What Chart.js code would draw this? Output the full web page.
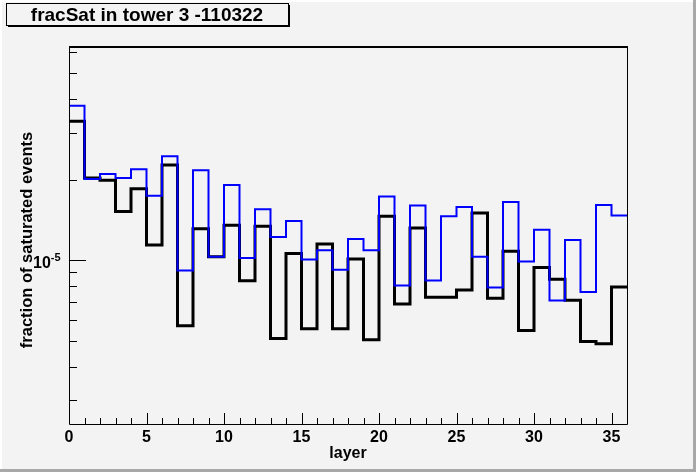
<!DOCTYPE html>
<html>
<head>
<meta charset="utf-8">
<script src="https://cdn.jsdelivr.net/npm/chart.js@4.4.1/dist/chart.umd.min.js"></script>
<style>
  html, body { margin: 0; padding: 0; background: #f3f3f3; overflow: hidden; }
  #wrap { position: relative; width: 696px; height: 472px; }
</style>
</head>
<body>
<div id="wrap"><canvas id="fracChart"></canvas></div>
<script>
// Histogram bins (layer number = left edge of bin)
const layers = [0, 1, 2, 3, 4, 5, 6, 7, 8, 9, 10, 11, 12, 13, 14, 15, 16, 17,
                18, 19, 20, 21, 22, 23, 24, 25, 26, 27, 28, 29, 30, 31, 32, 33, 34, 35];

// fraction of saturated events, black histogram
const fracBlack = [3.31e-5, 2.03e-5, 1.99e-5, 1.52e-5, 1.85e-5, 1.14e-5, 2.27e-5, 5.69e-6,
                   1.31e-5, 1.03e-5, 1.35e-5, 8.37e-6, 1.34e-5, 5.10e-6, 1.06e-5, 5.54e-6,
                   1.15e-5, 5.54e-6, 1.01e-5, 5.04e-6, 1.46e-5, 6.85e-6, 1.32e-5, 7.27e-6,
                   7.27e-6, 7.73e-6, 1.50e-5, 7.21e-6, 1.08e-5, 5.46e-6, 9.38e-6, 8.49e-6,
                   7.09e-6, 4.96e-6, 4.87e-6, 7.93e-6];

// fraction of saturated events, blue histogram
const fracBlue = [3.78e-5, 2.01e-5, 2.10e-5, 2.03e-5, 2.19e-5, 1.74e-5, 2.45e-5, 9.15e-6,
                  2.17e-5, 1.03e-5, 1.91e-5, 1.02e-5, 1.55e-5, 1.22e-5, 1.40e-5, 1.005e-5,
                  1.09e-5, 9.20e-6, 1.20e-5, 1.09e-5, 1.73e-5, 8.04e-6, 1.60e-5, 8.39e-6,
                  1.46e-5, 1.58e-5, 1.03e-5, 7.90e-6, 1.65e-5, 9.88e-6, 1.30e-5, 7.07e-6,
                  1.19e-5, 7.60e-6, 1.61e-5, 1.47e-5];

// axis ticks
const xMajorTicks = [0, 5, 10, 15, 20, 25, 30, 35];
const xMinorTicks = [1, 2, 3, 4, 6, 7, 8, 9, 11, 12, 13, 14, 16, 17, 18, 19, 21, 22, 23, 24,
                     26, 27, 28, 29, 31, 32, 33, 34, 36];
const yMajorTicks = [1e-5];
const yMajorLabels = ['-5'];
const yMinorTicks = [3e-6, 4e-6, 5e-6, 6e-6, 7e-6, 8e-6, 9e-6, 2e-5, 3e-5, 4e-5, 5e-5, 6e-5];

const xRange = [0, 36];
const yRange = [2.44e-6, 6.27e-5];

const titleText = 'fracSat in tower 3 -110322';
const xTitle = 'layer';
const yTitle = 'fraction of saturated events';

const FONT = '"Liberation Sans", Arial, Helvetica, sans-serif';

// step points: one per bin plus the right edge of the last bin
function toSteps(values) {
    const pts = layers.map((l, i) => ({ x: l, y: values[i] }));
    pts.push({ x: layers[layers.length - 1] + 1, y: values[values.length - 1] });
    return pts;
}

// ROOT-like canvas decoration: pad bevel, title box, frame, inward ticks
const rootFrame = {
    id: 'rootFrame',
    beforeDraw(chart) {
        const ctx = chart.ctx;
        const w = chart.width, h = chart.height;
        ctx.save();
        ctx.fillStyle = '#f3f3f3';
        ctx.fillRect(0, 0, w, h);
        // bevel
        ctx.fillStyle = '#ffffff';
        ctx.fillRect(0, 0, w, 2);
        ctx.fillRect(0, 0, 2, h);
        ctx.fillStyle = '#a8a8a8';
        ctx.fillRect(w - 3, 0, 3, h);
        ctx.fillRect(0, h - 3, w, 3);

        // title box
        ctx.fillStyle = '#000';
        ctx.fillRect(8, 5, 282, 22);
        ctx.fillStyle = '#f3f3f3';
        ctx.fillRect(7, 4, 281, 21);
        ctx.strokeStyle = '#000';
        ctx.lineWidth = 1;
        ctx.strokeRect(6.5, 3.5, 282, 22);
        ctx.fillStyle = '#000';
        ctx.font = 'bold 19px ' + FONT;
        ctx.textAlign = 'center';
        ctx.textBaseline = 'alphabetic';
        ctx.fillText(titleText, 147, 21);
        ctx.restore();
    },
    afterDatasetsDraw(chart) {
        const ctx = chart.ctx;
        const a = chart.chartArea;
        const xs = chart.scales.x, ys = chart.scales.y;
        ctx.save();
        ctx.strokeStyle = '#000';
        ctx.fillStyle = '#000';

        // frame
        ctx.lineWidth = 1;
        ctx.beginPath();
        ctx.moveTo(a.left + 0.5, a.top);
        ctx.lineTo(a.left + 0.5, a.bottom + 0.5);
        ctx.lineTo(a.right + 0.5, a.bottom + 0.5);
        ctx.lineTo(a.right + 0.5, a.top);
        ctx.stroke();
        ctx.lineWidth = 2;
        ctx.beginPath();
        ctx.moveTo(a.left, a.top);
        ctx.lineTo(a.right + 1, a.top);
        ctx.stroke();

        // x ticks
        ctx.lineWidth = 1;
        ctx.beginPath();
        xMajorTicks.forEach(v => {
            const px = Math.round(xs.getPixelForValue(v)) + 0.5;
            ctx.moveTo(px, a.bottom);
            ctx.lineTo(px, a.bottom - 11);
        });
        xMinorTicks.forEach(v => {
            const px = Math.round(xs.getPixelForValue(v)) + 0.5;
            ctx.moveTo(px, a.bottom);
            ctx.lineTo(px, a.bottom - 6);
        });
        // y ticks
        yMajorTicks.forEach(v => {
            const py = Math.round(ys.getPixelForValue(v)) + 0.5;
            ctx.moveTo(a.left, py);
            ctx.lineTo(a.left + 17, py);
        });
        yMinorTicks.forEach(v => {
            const py = Math.round(ys.getPixelForValue(v)) + 0.5;
            ctx.moveTo(a.left, py);
            ctx.lineTo(a.left + 8, py);
        });
        ctx.stroke();

        // x tick labels
        ctx.font = 'bold 16px ' + FONT;
        ctx.textAlign = 'center';
        ctx.textBaseline = 'alphabetic';
        xMajorTicks.forEach(v => {
            ctx.fillText(String(v), xs.getPixelForValue(v), 442);
        });

        // y tick labels: 10 with superscript exponent
        yMajorTicks.forEach((v, i) => {
            const py = ys.getPixelForValue(v);
            ctx.textAlign = 'left';
            ctx.font = 'bold 16px ' + FONT;
            ctx.fillText('10', 33, py + 8);
            const baseW = ctx.measureText('10').width;
            ctx.font = 'bold 11px ' + FONT;
            ctx.fillText(yMajorLabels[i], 33 + baseW, py + 0.5);
        });

        // axis titles
        ctx.font = 'bold 16px ' + FONT;
        ctx.textAlign = 'center';
        ctx.fillText(xTitle, (a.left + a.right) / 2, 458);

        ctx.save();
        ctx.translate(32, 240);
        ctx.rotate(-Math.PI / 2);
        ctx.font = 'bold 16.5px ' + FONT;
        ctx.textAlign = 'center';
        ctx.textBaseline = 'alphabetic';
        ctx.fillText(yTitle, 0, 0);
        ctx.restore();

        ctx.restore();
    }
};

const ctx = document.getElementById('fracChart').getContext('2d');
const fracChart = new Chart(ctx, {
    type: 'line',
    data: {
        datasets: [{
            label: 'blue',
            data: toSteps(fracBlue),
            borderColor: '#0000ff',
            borderWidth: 2,
            stepped: true,
            pointRadius: 0,
            fill: false,
            borderJoinStyle: 'miter',
            order: 0
        }, {
            label: 'black',
            data: toSteps(fracBlack),
            borderColor: '#000000',
            borderWidth: 3,
            stepped: true,
            pointRadius: 0,
            fill: false,
            borderJoinStyle: 'miter',
            order: 1
        }]
    },
    options: {
        responsive: true,
        maintainAspectRatio: false,
        animation: false,
        devicePixelRatio: 1,
        layout: {
            padding: { left: 69, right: 69, top: 47, bottom: 48 }
        },
        plugins: {
            legend: { display: false },
            tooltip: { enabled: false },
            title: { display: false }
        },
        scales: {
            x: {
                type: 'linear',
                display: false,
                min: xRange[0],
                max: xRange[1],
                bounds: 'data'
            },
            y: {
                type: 'logarithmic',
                display: false,
                min: yRange[0],
                max: yRange[1],
                bounds: 'data'
            }
        }
    },
    plugins: [rootFrame]
});
</script>
</body>
</html>
